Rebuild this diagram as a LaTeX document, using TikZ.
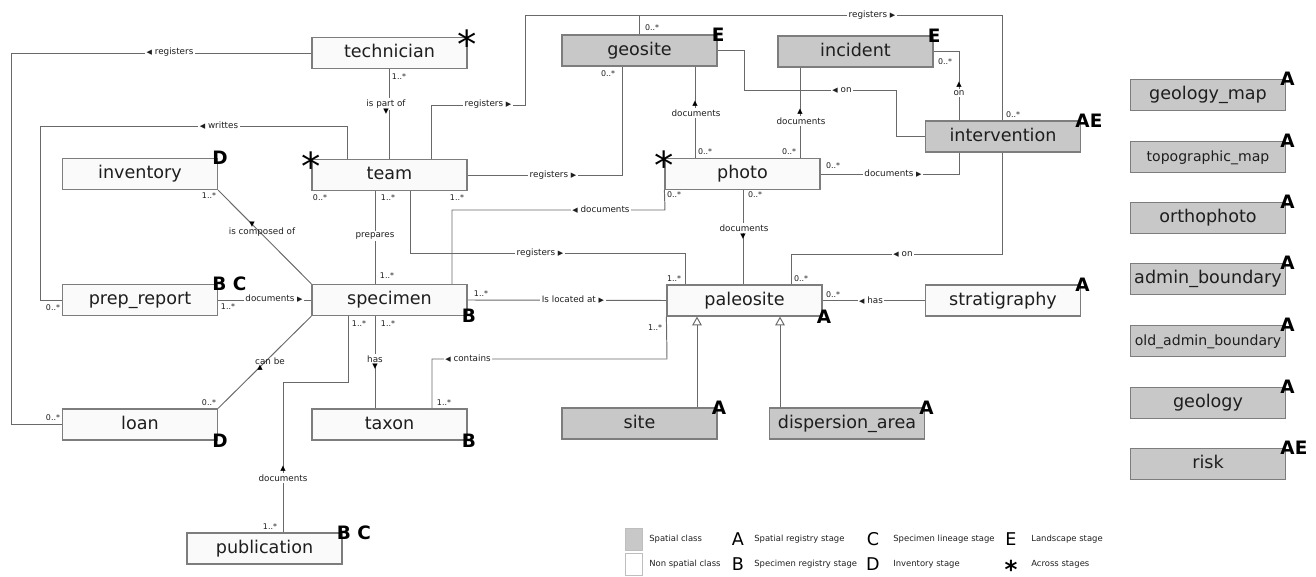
\documentclass[tikz,border=0pt]{standalone}
\usepackage{fontspec}
\setmainfont{DejaVu Sans}
\usepackage{tikz}
\usetikzlibrary{calc,arrows.meta}

\definecolor{spatialgray}{RGB}{200,200,200}
\definecolor{plainfill}{RGB}{250,250,250}
\definecolor{edgegray}{RGB}{125,125,125}
\definecolor{linkgray}{RGB}{105,105,105}
\definecolor{inkgray}{RGB}{30,30,30}

\newcommand{\tipL}{{\fontsize{4}{4}\selectfont ◀}}
\newcommand{\tipR}{{\fontsize{4}{4}\selectfont ▶}}
\newcommand{\tipU}{{\fontsize{4}{4}\selectfont ▲}}
\newcommand{\tipD}{{\fontsize{4}{4}\selectfont ▼}}
\newcommand{\smallname}{\fontsize{8}{9}\selectfont}

\begin{document}
\begin{tikzpicture}[x=0.02cm,y=-0.02cm,
    cls/.style={draw=edgegray,line width=0.7pt,fill=plainfill,minimum width=3.1cm,minimum height=0.62cm,inner sep=0pt,text height=7.5pt,text depth=2pt,text=inkgray,font=\fontsize{10}{12}\selectfont},
    spatial/.style={cls,fill=spatialgray},
    assoc/.style={draw=linkgray,line width=0.55pt},
    gen/.style={assoc,-{Triangle[open,length=5pt,width=5.5pt]}},
    lbl/.style={fill=white,inner sep=0.8pt,text=inkgray,font=\fontsize{5}{6}\selectfont},
    tip/.style={inner sep=0pt,text=black,font=\fontsize{5}{6}\selectfont},
    mult/.style={inner sep=0pt,text=inkgray,font=\fontsize{4.5}{5}\selectfont},
    stage/.style={inner sep=0pt,anchor=west,xshift=-3.4pt,font=\fontsize{10.5}{12}\bfseries\selectfont},
    star/.style={inner sep=0pt,yshift=-4.4pt,font=\fontsize{22}{22}\selectfont},
    legtext/.style={inner sep=0pt,anchor=west,text=inkgray,font=\fontsize{4.8}{6}\selectfont},
    legletter/.style={inner sep=0pt,font=\fontsize{10}{12}\selectfont},
]
    \useasboundingbox (0,0) rectangle (1316,577);

    % classes
    \node[cls] (technician) at (389.5,53) {technician};
    \node[spatial] (geosite) at (639.5,50.5) {geosite};
    \node[spatial] (incident) at (855.5,51.5) {incident};
    \node[spatial] (intervention) at (1003,136.5) {intervention};
    \node[cls] (inventory) at (140,174) {inventory};
    \node[cls] (team) at (389.5,175) {team};
    \node[cls] (photo) at (742.5,174) {photo};
    \node[cls] (prepreport) at (140,300) {prep\_report};
    \node[cls] (specimen) at (389.5,300) {specimen};
    \node[cls] (paleosite) at (744.5,300.5) {paleosite};
    \node[cls] (stratigraphy) at (1003,300.5) {stratigraphy};
    \node[cls] (loan) at (140,424.5) {loan};
    \node[cls] (taxon) at (389.5,424.5) {taxon};
    \node[spatial] (site) at (639.5,423.5) {site};
    \node[spatial] (dispersion) at (847,423.5) {dispersion\_area};
    \node[cls] (publication) at (264.5,548.5) {publication};

    % map layers, not linked to the rest
    \foreach \nm/\yy/\txt/\stg in {geologymap/95/geology\_map/A, topomap/157/{\smallname topographic\_map}/A, orthophoto/218/orthophoto/A, adminbound/279/admin\_boundary/A, oldadminbound/341/{\smallname old\_admin\_boundary}/A, geology/403/geology/A, risk/464/risk/AE}{
        \node[spatial] (\nm) at (1208,\yy) {\txt};
        \node[stage] (\nm-stg) at (\nm.north east) {\stg};
    }

    % stage marks
    \node[star] (technician-stg) at (technician.north east) {*};
    \node[stage] (geosite-stg) at (geosite.north east) {E};
    \node[stage] (incident-stg) at (incident.north east) {E};
    \node[stage] (intervention-stg) at (intervention.north east) {AE};
    \node[stage] (inventory-stg) at (inventory.north east) {D};
    \node[star] (team-stg) at (team.north west) {*};
    \node[star] (photo-stg) at (photo.north west) {*};
    \node[stage] (prepreport-stg) at (prepreport.north east) {B C};
    \node[stage] (specimen-stg) at (specimen.south east) {B};
    \node[stage] (paleosite-stg) at (paleosite.south east) {A};
    \node[stage] (stratigraphy-stg) at (stratigraphy.north east) {A};
    \node[stage] (loan-stg) at (loan.south east) {D};
    \node[stage] (taxon-stg) at (taxon.south east) {B};
    \node[stage] (site-stg) at (site.north east) {A};
    \node[stage] (dispersion-stg) at (dispersion.north east) {A};
    \node[stage] (publication-stg) at (publication.north east) {B C};

    % associations
    \draw[assoc] (technician.west) -- (11,53) |- (loan.west);
    \draw[assoc] (team.north -| 347,0) |- (40,126) |- (prepreport.west);
    \draw[assoc] (technician.south) -- (team.north);
    \draw[assoc] (team.north -| 431,0) |- (525,105) -- (525,15) -| (intervention.north -| 1002,0);
    \draw[assoc] (geosite.north) -- (geosite.north |- 0,15);
    \draw[assoc] (team.east) -| (geosite.south -| 622,0);
    \draw[assoc] (geosite.south -| 695,0) -- (photo.north -| 695,0);
    \draw[assoc] (incident.south -| 800,0) -- (photo.north -| 800,0);
    \draw[assoc] (geosite.east) -| (744,90) -- (896,90) |- (intervention.west);
    \draw[assoc] (incident.east) -| (intervention.north -| 959,0);
    \draw[assoc] (photo.east) -| (intervention.south -| 959,0);
    \draw[assoc] (intervention.south -| 1002,0) |- (791,254) -- (paleosite.north -| 791,0);
    \draw[assoc] (team.south -| 375,0) -- (specimen.north -| 375,0);
    \draw[assoc] (team.south -| 410,0) |- (685,253) -- (paleosite.north -| 685,0);
    \draw[assoc] (specimen.north -| 452,0) |- (665,210) -- (photo.south west);
    \draw[assoc] (photo.south -| 743,0) -- (paleosite.north -| 743,0);
    \draw[assoc] (inventory.south east) -- (specimen.north west);
    \draw[assoc] (prepreport.east) -- (specimen.west);
    \draw[assoc] (loan.north east) -- (specimen.south west);
    \draw[assoc] (specimen.east) -- (paleosite.west);
    \draw[assoc] (specimen.south -| 375,0) -- (taxon.north -| 375,0);
    \draw[assoc] (specimen.south -| 348,0) |- (283,382) -- (publication.north -| 283,0);
    \draw[assoc] (taxon.north -| 432,0) |- (667,359) -- (paleosite.south west);
    \draw[assoc] (stratigraphy.west) -- (paleosite.east);
    \draw[gen] (site.north -| 697,0) -- (paleosite.south -| 697,0); % is a
    \draw[gen] (dispersion.north -| 780,0) -- (paleosite.south -| 780,0); % is a

    % role names
    \node[lbl] (regtech) at (170,52) {\tipL\ registers};
    \node[lbl] (writes) at (219,126) {\tipL\ writtes};
    \node[lbl] (partof) at (386,104) {is part of};
    \node[tip] (partof-tip) at (386,112) {\tipD};
    \node[lbl] (regint) at (488,104) {registers \tipR};
    \node[lbl] (regtop) at (872,15) {registers \tipR};
    \node[lbl] (reggeo) at (553,175) {registers \tipR};
    \node[lbl] (docgeo) at (696,113) {documents};
    \node[tip] (docgeo-tip) at (695,104) {\tipU};
    \node[lbl] (docinc) at (801,121) {documents};
    \node[tip] (docinc-tip) at (800,112) {\tipU};
    \node[lbl] (ongeo) at (842,90) {\tipL\ on};
    \node[lbl] (oninc) at (959,93) {on};
    \node[tip] (oninc-tip) at (959,85) {\tipU};
    \node[lbl] (docphoto) at (893,174) {documents \tipR};
    \node[lbl] (onpaleo) at (903,254) {\tipL\ on};
    \node[lbl] (prepares) at (375,236) {prepares};
    \node[lbl] (regpaleo) at (540,253) {registers \tipR};
    \node[lbl] (docspec) at (601,210) {\tipL\ documents};
    \node[lbl] (docpaleo) at (744,228) {documents};
    \node[tip] (docpaleo-tip) at (743,237) {\tipD};
    \node[lbl,fill=none] (composed) at (262,232) {is composed of};
    \node[tip] (composed-tip) at (252,225) {\tipD};
    \node[lbl] (docprep) at (274,299) {documents \tipR};
    \node[lbl,fill=none] (canbe) at (270,361) {can be};
    \node[tip] (canbe-tip) at (260,368) {\tipU};
    \node[lbl] (located) at (573,300) {Is located at \tipR};
    \node[lbl] (hastaxon) at (375,359) {has};
    \node[tip] (hastaxon-tip) at (375,367) {\tipD};
    \node[lbl] (docpub) at (283,478) {documents};
    \node[tip] (docpub-tip) at (283,469) {\tipU};
    \node[lbl] (contains) at (468,359) {\tipL\ contains};
    \node[lbl] (hasstrat) at (871,301) {\tipL\ has};

    % multiplicities
    \node[mult] (m1) at (53,418) {0..*};
    \node[mult] (m2) at (53,308) {0..*};
    \node[mult] (m3) at (399,77) {1..*};
    \node[mult] (m4) at (320,198) {0..*};
    \node[mult] (m5) at (388,198) {1..*};
    \node[mult] (m6) at (457,198) {1..*};
    \node[mult] (m7) at (387,276) {1..*};
    \node[mult] (m8) at (481,294) {1..*};
    \node[mult] (m9) at (359,324) {1..*};
    \node[mult] (m10) at (388,324) {1..*};
    \node[mult] (m11) at (444,403) {1..*};
    \node[mult] (m12) at (608,74) {0..*};
    \node[mult] (m13) at (652,28) {0..*};
    \node[mult] (m14) at (945,62) {0..*};
    \node[mult] (m15) at (1013,115) {0..*};
    \node[mult] (m16) at (705,152) {0..*};
    \node[mult] (m17) at (789,152) {0..*};
    \node[mult] (m18) at (833,166) {0..*};
    \node[mult] (m19) at (674,195) {0..*};
    \node[mult] (m20) at (755,195) {0..*};
    \node[mult] (m21) at (674,279) {1..*};
    \node[mult] (m22) at (801,279) {0..*};
    \node[mult] (m23) at (833,295) {0..*};
    \node[mult] (m24) at (655,328) {1..*};
    \node[mult] (m25) at (209,196) {1..*};
    \node[mult] (m26) at (228,307) {1..*};
    \node[mult] (m27) at (209,403) {0..*};
    \node[mult] (m28) at (270,527) {1..*};

    % legend
    \node[draw=edgegray!50,fill=spatialgray,minimum width=0.34cm,minimum height=0.44cm,inner sep=0pt] (legspatial) at (633.5,539) {};
    \node[draw=edgegray!50,fill=white,minimum width=0.34cm,minimum height=0.44cm,inner sep=0pt] (legplain) at (633.5,564) {};
    \node[legtext] (legspatial-t) at (649,539) {Spatial class};
    \node[legtext] (legplain-t) at (649,564) {Non spatial class};
    \node[legletter] (legA) at (738,539) {A};
    \node[legtext] (legA-t) at (754,539) {Spatial registry stage};
    \node[legletter] (legB) at (738,564) {B};
    \node[legtext] (legB-t) at (754,564) {Specimen registry stage};
    \node[legletter] (legC) at (873,539) {C};
    \node[legtext] (legC-t) at (893,539) {Specimen lineage stage};
    \node[legletter] (legD) at (873,564) {D};
    \node[legtext] (legD-t) at (893,564) {Inventory stage};
    \node[legletter] (legE) at (1011,539) {E};
    \node[legtext] (legE-t) at (1031,539) {Landscape stage};
    \node[legletter,yshift=-3pt,font=\fontsize{14}{14}\bfseries\selectfont] (legstar) at (1011,564) {*};
    \node[legtext] (legstar-t) at (1031,564) {Across stages};
\end{tikzpicture}
\end{document}
